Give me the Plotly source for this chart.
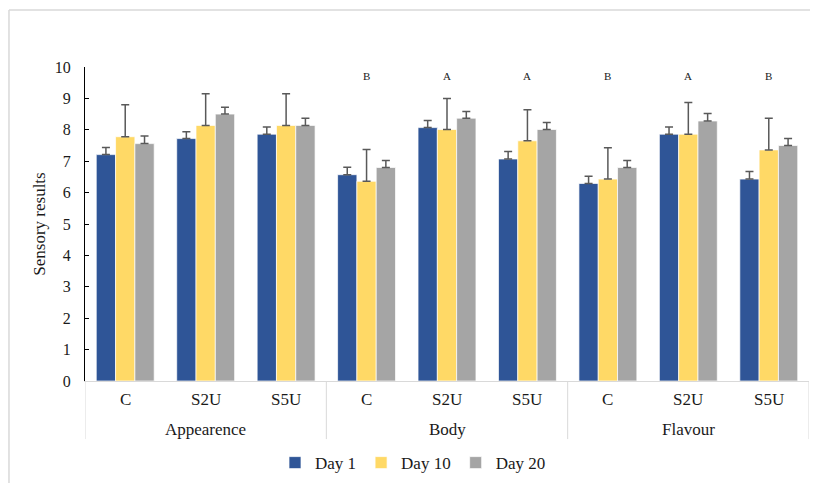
import plotly.graph_objects as go

groups = ["Appearence", "Body", "Flavour"]
samples = ["C", "S2U", "S5U"]
series = ["Day 1", "Day 10", "Day 20"]
colors = ["#2F5597", "#FFD966", "#A5A5A5"]

day1 = [7.21, 7.72, 7.86, 6.57, 8.07, 7.07, 6.29, 7.86, 6.43]
day10 = [7.78, 8.14, 8.14, 6.36, 8.01, 7.65, 6.43, 7.86, 7.36]
day20 = [7.56, 8.50, 8.14, 6.80, 8.37, 8.01, 6.80, 8.28, 7.50]
err1 = [0.23, 0.22, 0.23, 0.24, 0.23, 0.24, 0.23, 0.23, 0.24]
err10 = [1.02, 1.01, 1.01, 1.01, 0.99, 0.99, 1.00, 1.01, 1.01]
err20 = [0.24, 0.22, 0.23, 0.22, 0.21, 0.22, 0.22, 0.24, 0.22]
letters = ["", "", "", "B", "A", "A", "B", "A", "B"]
letter_y = 9.7

values = [day1, day10, day20]
errors = [err1, err10, err20]
x = list(range(len(groups) * len(samples)))

font = "Liberation Serif"
fig = go.Figure()
for name, vals, errs, col in zip(series, values, errors, colors):
    fig.add_trace(go.Bar(
        x=x, y=vals, name=name,
        marker=dict(color=col, line=dict(color="rgba(255,255,255,0.7)", width=1)),
        error_y=dict(type="data", array=errs, arrayminus=[0] * len(errs),
                     symmetric=False, color="#595959", thickness=1.5, width=4),
    ))

annotations = []
n = len(samples)
for i in x:
    annotations.append(dict(x=i, y=-0.0605, xref="x", yref="paper",
                            text=samples[i % n], showarrow=False, yanchor="middle",
                            font=dict(family=font, size=17, color="#1a1a1a")))
    if letters[i]:
        annotations.append(dict(x=i, y=letter_y, xref="x", yref="y",
                                text=letters[i], showarrow=False,
                                font=dict(family=font, size=11, color="#1a1a1a")))
for g, gname in enumerate(groups):
    annotations.append(dict(x=g * n + (n - 1) / 2, y=-0.156, xref="x", yref="paper",
                            text=gname, showarrow=False, yanchor="middle",
                            font=dict(family=font, size=17, color="#1a1a1a")))

shapes = []
for g in range(len(groups) + 1):
    xs = g * n - 0.5
    shapes.append(dict(type="line", xref="x", yref="paper", x0=xs, x1=xs,
                       y0=0, y1=-0.185, line=dict(color="#d9d9d9", width=1)))
# outer chart border
border = dict(color="#d9d9d9", width=1.5)
shapes.append(dict(type="line", xref="paper", yref="paper", x0=-0.105, x1=1.05,
                   y0=1.1815, y1=1.1815, line=border))
shapes.append(dict(type="line", xref="paper", yref="paper", x0=-0.105, x1=-0.105,
                   y0=1.1815, y1=-0.4, line=border))

fig.update_layout(
    width=810, height=475,
    margin=dict(l=77, r=9, t=59, b=102, autoexpand=False),
    paper_bgcolor="white", plot_bgcolor="white",
    barmode="group", bargap=0.28, bargroupgap=0,
    font=dict(family=font, size=17, color="#1a1a1a"),
    showlegend=True,
    legend=dict(orientation="h", x=0.5, xanchor="center", xref="container",
                y=0.042, yanchor="middle", yref="container",
                font=dict(family=font, size=17), itemwidth=30, tracegroupgap=0),
    annotations=annotations, shapes=shapes,
    xaxis=dict(range=[-0.5, 8.5], showticklabels=False, showgrid=False,
               zeroline=False, showline=True, linecolor="#d9d9d9", linewidth=1,
               ticks="", automargin=False),
    yaxis=dict(range=[0, 10], dtick=1, tick0=0, showgrid=False, zeroline=False,
               showline=True, linecolor="black", linewidth=1, ticks="inside",
               ticklen=4, tickcolor="black", ticklabelstandoff=10,
               automargin=False,
               title=dict(text="Sensory results", font=dict(family=font, size=17),
                          standoff=4),
               tickfont=dict(family=font, size=16)),
)

fig.write_html("out.html")
